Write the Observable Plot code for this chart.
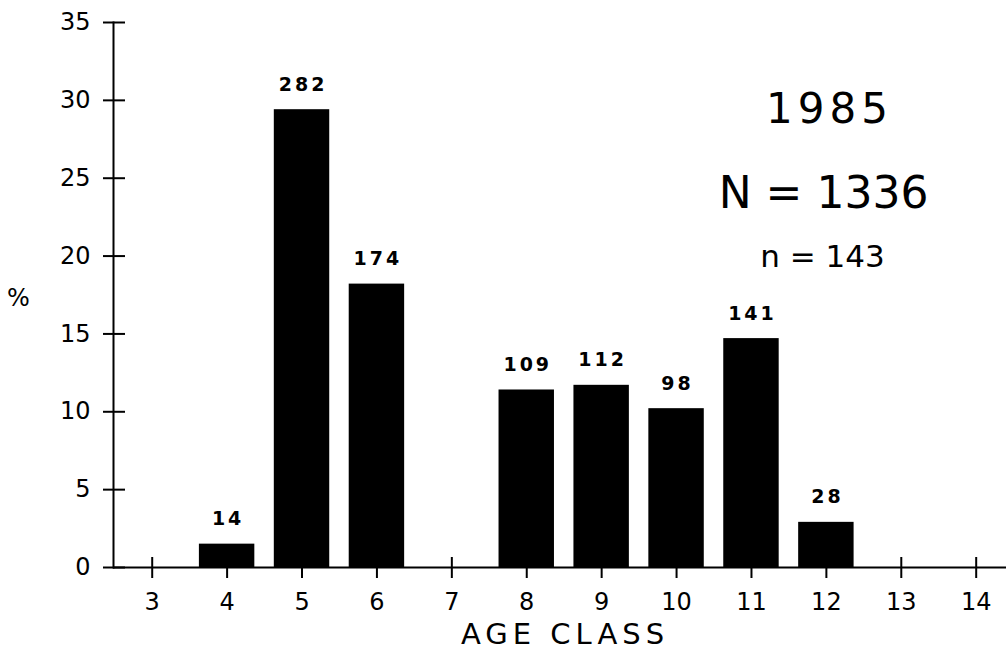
<!DOCTYPE html>
<html>
<head>
<meta charset="utf-8">
<script src="https://cdn.jsdelivr.net/npm/d3@7"></script>
<script src="https://cdn.jsdelivr.net/npm/@observablehq/plot@0.6"></script>
<style>
  html, body { margin: 0; padding: 0; background: #fff; }
  #chart svg { display: block; }
</style>
</head>
<body>
<div id="chart"></div>
<script>
// ---- data ----
const ageClasses = ["3", "4", "5", "6", "7", "8", "9", "10", "11", "12", "13", "14"];
const barClasses = ["4", "5", "6", "8", "9", "10", "11", "12"];
const percents   = [1.5, 29.4, 18.2, 11.4, 11.7, 10.2, 14.7, 2.9];
const counts     = [14, 282, 174, 109, 112, 98, 141, 28];
const yTicks     = [0, 5, 10, 15, 20, 25, 30, 35];
const yearLabel  = ["1985"];
const bigNLabel  = ["N = 1336"];
const smallNLabel = ["n = 143"];
const xTitle     = ["AGE CLASS"];
const yTitle     = ["%"];

const data = barClasses.map((c, i) => ({age: c, pct: percents[i], count: counts[i]}));
const font = "DejaVu Sans";

const chart = Plot.plot({
  width: 1006,
  height: 663,
  marginLeft: 113,
  marginRight: 0,
  marginTop: 22,
  marginBottom: 96,
  style: {background: "#fff", color: "#000", fontFamily: font},
  x: {type: "band", domain: ageClasses, range: [114.25, 1013.15], paddingInner: 0.26, paddingOuter: 0.13, round: false},
  y: {domain: [0, 35]},
  marks: [
    Plot.barY(data, {x: "age", y: "pct", fill: "#000"}),
    Plot.text(data, {x: "age", y: "pct", text: d => String(d.count), dy: -25, dx: 1,
      fontFamily: font, fontWeight: "bold", fontSize: 19, fill: "#000"}),
    Plot.ruleY([0], {strokeWidth: 2}),
    Plot.frame({anchor: "left", strokeWidth: 2}),
    Plot.axisY({ticks: yTicks, tickSize: 22, dx: 12, tickPadding: 13, fontSize: 24,
      fontFamily: font, label: null, strokeWidth: 2}),
    Plot.axisX({tickSize: 21, dy: -10, tickPadding: 14, fontSize: 24,
      fontFamily: font, label: null, strokeWidth: 2}),
    Plot.text(yearLabel, {frameAnchor: "top-right", text: d => d, dx: -177, dy: 71,
      fontSize: 42, fontFamily: font, textAnchor: "middle"}),
    Plot.text(bigNLabel, {frameAnchor: "top-right", text: d => d, dx: -183, dy: 154,
      fontSize: 44, fontFamily: font, textAnchor: "middle"}),
    Plot.text(smallNLabel, {frameAnchor: "top-right", text: d => d, dx: -184, dy: 222,
      fontSize: 31, fontFamily: font, textAnchor: "middle"}),
    Plot.text(xTitle, {frameAnchor: "bottom", text: d => d, dx: 5, dy: 76,
      fontSize: 29, fontFamily: font, textAnchor: "middle"}),
    Plot.text(yTitle, {frameAnchor: "left", text: d => d, dx: -95, dy: 3,
      fontSize: 24, fontFamily: font, textAnchor: "middle"})
  ]
});

document.getElementById("chart").appendChild(chart);

// letter spacing to mimic the wide lettering of the original
const countStrings = counts.map(String);
d3.select(chart).selectAll("text").each(function() {
  const t = this.textContent;
  if (countStrings.includes(t) && this.closest("g[aria-label='text']")) this.style.letterSpacing = "3px";
  if (yearLabel.includes(t)) this.style.letterSpacing = "5px";
  if (xTitle.includes(t)) this.style.letterSpacing = "5px";
});
</script>
</body>
</html>
